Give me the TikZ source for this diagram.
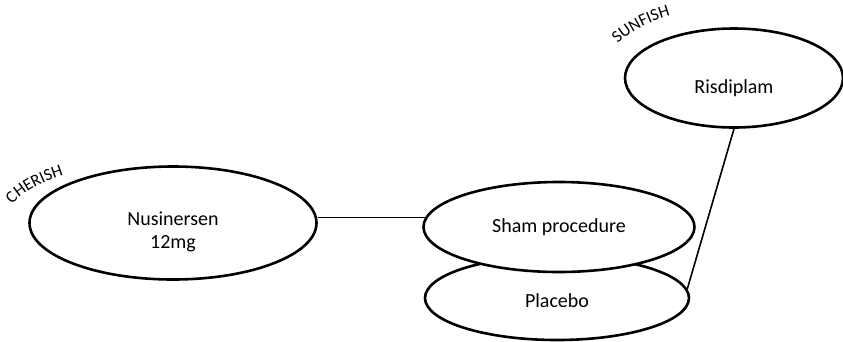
\documentclass[tikz,border=0pt]{standalone}
\usepackage{fontspec}
\setmainfont{Carlito}
\usetikzlibrary{shapes.geometric,decorations.text,calc}

\begin{document}
\begin{tikzpicture}[x=1pt,y=-1pt,
  arm/.style={draw=black,line width=2.6pt,ellipse,fill=white,inner sep=0pt},
  armtext/.style={font=\fontsize{20}{23}\selectfont,align=center,inner sep=0pt},
  link/.style={draw=black,line width=1.6pt}]
\def\lab{\fontsize{17}{19}\selectfont}
\useasboundingbox (0,0) rectangle (843,341);

% arms
\node[arm,minimum width=287,minimum height=113] (nusinersen) at (173,223) {};
\node[armtext] (nusinersen-txt) at ([yshift=-9]nusinersen.center) {Nusinersen\\12mg};
\node[arm,minimum width=218,minimum height=99] (risdiplam) at (734,78) {};
\node[armtext] (risdiplam-txt) at ([yshift=-10]risdiplam.center) {Risdiplam};
\node[arm,minimum width=264,minimum height=84] (placebo) at (557,298) {};
\node[armtext] (placebo-txt) at ([yshift=-3]placebo.center) {Placebo};
\node[arm,minimum width=271,minimum height=90] (sham) at (559,227) {};
\node[armtext] (sham-txt) at (sham.center) {Sham procedure};

% links
\draw[link] (sham.176) -- (sham.176 -| nusinersen.east);
\draw[link] (risdiplam.south) -- (placebo.4);

% trial names
\path[decorate,decoration={text along path,text align=left,
  text={|\lab|CHERISH}}]
  ($(nusinersen.center)+(163:168 and -63)$) arc[start angle=163,end angle=105,x radius=168,y radius=-63];
\path[decorate,decoration={text along path,text align=left,
  text={|\lab|SUNFISH}}]
  ($(risdiplam.center)+(151:133 and -71)$) arc[start angle=151,end angle=90,x radius=133,y radius=-71];
\end{tikzpicture}
\end{document}
